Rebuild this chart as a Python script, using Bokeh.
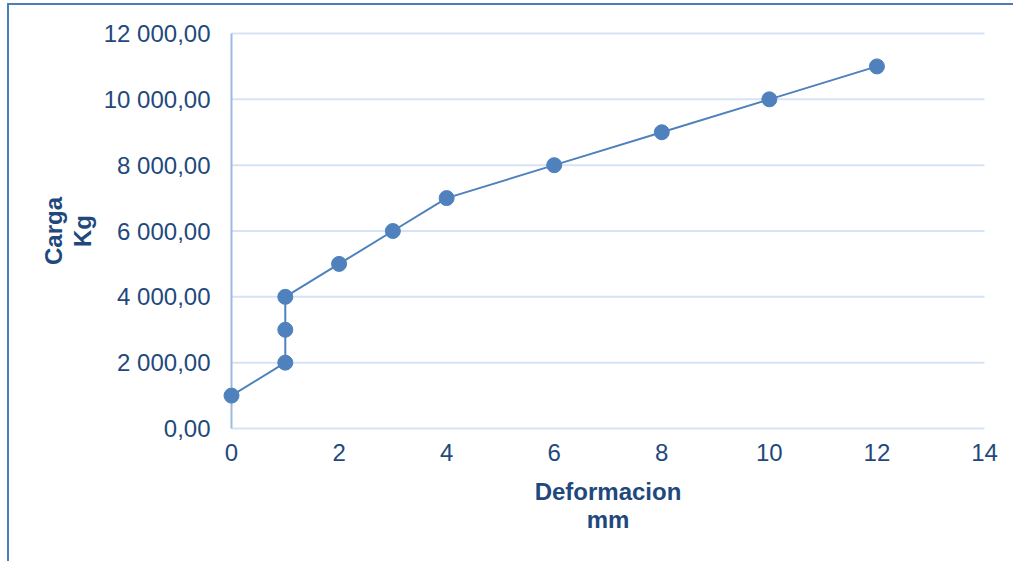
from bokeh.plotting import figure
from bokeh.models import Range1d, FixedTicker
from bokeh.embed import file_html
from bokeh.resources import INLINE

# Data
deformacion_mm = [0, 1, 1, 1, 2, 3, 4, 6, 8, 10, 12]
carga_kg = [1000, 2000, 3000, 4000, 5000, 6000, 7000, 8000, 9000, 10000, 11000]
y_ticks = [0, 2000, 4000, 6000, 8000, 10000, 12000]
y_tick_labels = ["0,00", "2 000,00", "4 000,00", "6 000,00", "8 000,00", "10 000,00", "12 000,00"]
x_ticks = [0, 2, 4, 6, 8, 10, 12, 14]

TEXT = "#1f497d"
SERIES = "#4f81bd"
GRID = "#d6e3f4"
AXIS = "#9bbbe3"
FONT = "Liberation Sans"

x_min, x_max = x_ticks[0], x_ticks[-1]
y_min, y_max = y_ticks[0], y_ticks[-1]
# small padding so markers/lines at the range edges are not clipped
x_pad = 11 / (753 / (x_max - x_min))
y_pad = 2 / (395 / (y_max - y_min))

p = figure(width=1006, height=558, output_backend="svg", toolbar_location=None,
           x_range=Range1d(x_min - x_pad, x_max + x_pad),
           y_range=Range1d(y_min - y_pad, y_max + y_pad),
           min_border_left=211, min_border_right=20, min_border_top=26, min_border_bottom=133)
p.styles = {"margin-left": "7px", "margin-top": "3px",
            "border-left": "2px solid #4a7ebb", "border-top": "2px solid #4a7ebb"}
p.outline_line_color = None
p.background_fill_color = "white"
p.border_fill_color = "white"

# horizontal gridlines and the vertical value axis line
p.grid.visible = False
p.segment(x0=[x_min] * len(y_ticks), x1=[x_max] * len(y_ticks), y0=y_ticks, y1=y_ticks,
          line_color=GRID, line_width=2)
p.segment(x0=[x_min], x1=[x_min], y0=[y_min], y1=[y_max], line_color=AXIS, line_width=2)

p.line(deformacion_mm, carga_kg, line_color=SERIES, line_width=2)
p.scatter(deformacion_mm, carga_kg, size=15, fill_color=SERIES, line_color=SERIES)

# y axis
ya = p.yaxis[0]
ya.ticker = FixedTicker(ticks=y_ticks)
ya.major_label_overrides = {t: l for t, l in zip(y_ticks, y_tick_labels)}
ya.axis_line_color = None
ya.major_tick_line_color = None
ya.minor_tick_line_color = None
ya.major_tick_out = 0
ya.major_tick_in = 0
ya.minor_tick_out = 0
ya.major_label_text_font = FONT
ya.major_label_text_font_size = "24px"
ya.major_label_text_color = TEXT
ya.major_label_standoff = 10
ya.axis_label = "Carga\nKg"
ya.axis_label_text_font = FONT
ya.axis_label_text_font_size = "24px"
ya.axis_label_text_font_style = "bold"
ya.axis_label_text_color = TEXT
ya.axis_label_text_line_height = 1.07
ya.axis_label_standoff = 5

# x axis
xa = p.xaxis[0]
xa.ticker = FixedTicker(ticks=x_ticks)
xa.axis_line_color = None
xa.major_tick_line_color = None
xa.minor_tick_line_color = None
xa.major_tick_out = 0
xa.major_tick_in = 0
xa.minor_tick_out = 0
xa.major_label_text_font = FONT
xa.major_label_text_font_size = "24px"
xa.major_label_text_color = TEXT
xa.major_label_standoff = 13
xa.axis_label = "Deformacion\nmm"
xa.axis_label_text_font = FONT
xa.axis_label_text_font_size = "24px"
xa.axis_label_text_font_style = "bold"
xa.axis_label_text_color = TEXT
xa.axis_label_text_line_height = 1.07
xa.axis_label_standoff = 14

open("out.html", "w").write(file_html(p, INLINE))
